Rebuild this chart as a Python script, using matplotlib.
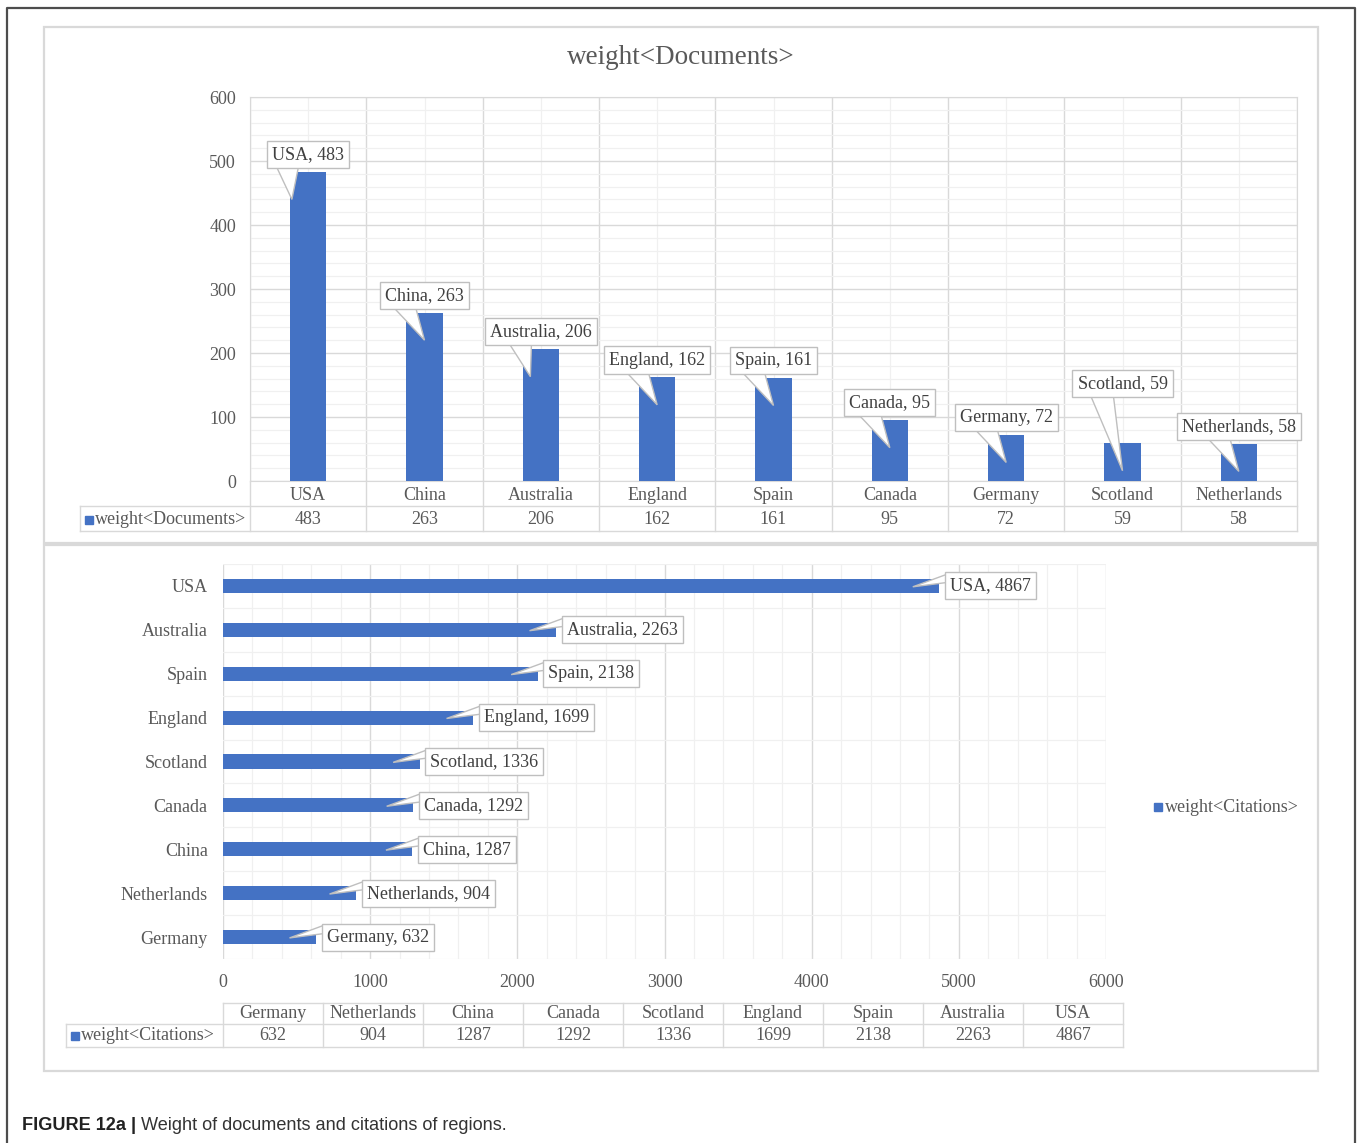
import matplotlib.pyplot as plt
from matplotlib.patches import Polygon, Rectangle
import numpy as np

# ---------------- data ----------------
doc_regions = ["USA", "China", "Australia", "England", "Spain", "Canada",
               "Germany", "Scotland", "Netherlands"]
doc_weights = [483, 263, 206, 162, 161, 95, 72, 59, 58]

cit_regions = ["Germany", "Netherlands", "China", "Canada", "Scotland",
               "England", "Spain", "Australia", "USA"]
cit_weights = [632, 904, 1287, 1292, 1336, 1699, 2138, 2263, 4867]

doc_series = "weight<Documents>"
cit_series = "weight<Citations>"
caption_bold = "FIGURE 12a |"
caption_text = " Weight of documents and citations of regions."

# ---------------- style ----------------
W, H = 1357, 1143
BLUE = "#4472C4"
GRID = "#d9d9d9"
MINOR = "#f0f0f0"
TXT = "#595959"
LBL = "#404040"
EDGE = "#bfbfbf"
SERIF = "Liberation Serif"
FS = 13

plt.rcParams["font.family"] = SERIF


def frac(x0, y0, x1, y1):
    # pixel box (y from top) -> figure fraction rect
    return [x0 / W, 1 - y1 / H, (x1 - x0) / W, (y1 - y0) / H]


fig = plt.figure(figsize=(W / 100, H / 100), dpi=100)
fig.patch.set_facecolor("white")

# background overlay in pixel coordinates
bg = fig.add_axes([0, 0, 1, 1], zorder=0)
bg.set_xlim(0, W)
bg.set_ylim(H, 0)
bg.axis("off")

# outer frame
bg.plot([7, 7, 1355, 1355], [H, 8, 8, H], color="#4d4d4d", lw=1.6)
# panels
bg.add_patch(Rectangle((44, 27), 1274, 516, fc="white", ec=GRID, lw=1.6))
bg.add_patch(Rectangle((44, 545), 1274, 526, fc="white", ec=GRID, lw=1.6))

# ---------------- top chart: documents ----------------
ax1 = fig.add_axes(frac(250, 97, 1297, 481), zorder=2)
ax1.set_facecolor("none")
n1 = len(doc_regions)
x1 = np.arange(n1)
ax1.bar(x1, doc_weights, width=0.31, color=BLUE, zorder=3)
ax1.set_xlim(-0.5, n1 - 0.5)
ax1.set_ylim(0, 600)
ax1.set_yticks(np.arange(0, 601, 100))
ax1.set_yticks(np.arange(0, 601, 20), minor=True)
ax1.set_xticks(np.arange(-0.5, n1, 1.0))
ax1.set_xticks(x1, minor=True)
ax1.set_xticklabels([])
ax1.grid(which="major", color=GRID, lw=1.0, zorder=0)
ax1.grid(which="minor", color=MINOR, lw=0.9, zorder=0)
ax1.tick_params(which="both", length=0)
ax1.tick_params(axis="y", labelsize=FS, labelcolor=TXT, pad=10)
for s in ax1.spines.values():
    s.set_color(GRID)
ax1.set_axisbelow(True)

# chart title centred on the panel
bg.text(681, 58, doc_series, ha="center", va="center", fontsize=19.5, color=TXT)

# callouts above bars
lift = [27, 27, 27, 27, 27, 27, 27, 93, 27]
tip_dx = [-0.14, 0, -0.09, 0, 0, 0, 0, 0, 0]
for i, (r, v) in enumerate(zip(doc_regions, doc_weights)):
    cy = v + lift[i]
    by = cy - 16
    tri = Polygon([(i - 0.28, by), (i - 0.08, by), (i + tip_dx[i], v - 43)],
                  closed=True, fc="white", ec=EDGE, lw=1.0, zorder=4)
    ax1.add_patch(tri)
    ax1.text(i, cy, f"{r}, {v}", ha="center", va="center", fontsize=FS,
             color=LBL, zorder=5,
             bbox=dict(boxstyle="square,pad=0.28", fc="white", ec=EDGE, lw=1.0))

# data table under the top chart
cw1 = (1297 - 250) / n1
for k in range(n1 + 1):
    bg.plot([250 + k * cw1] * 2, [481, 531], color=GRID, lw=1.0)
bg.plot([80, 1297], [506, 506], color=GRID, lw=1.0)
bg.plot([80, 1297], [531, 531], color=GRID, lw=1.0)
bg.plot([80, 80], [506, 531], color=GRID, lw=1.0)
for k, (r, v) in enumerate(zip(doc_regions, doc_weights)):
    cx = 250 + (k + 0.5) * cw1
    bg.text(cx, 495, r, ha="center", va="center", fontsize=FS, color=TXT)
    bg.text(cx, 520, str(v), ha="center", va="center", fontsize=FS, color=TXT)
bg.plot(89, 520, "s", ms=6, color=BLUE)
bg.text(95, 520, doc_series, ha="left", va="center", fontsize=FS, color=TXT)

# ---------------- bottom chart: citations ----------------
ax2 = fig.add_axes(frac(223, 564, 1106, 959), zorder=2)
ax2.set_facecolor("none")
n2 = len(cit_regions)
y2 = np.arange(n2)
ax2.barh(y2, cit_weights, height=0.32, color=BLUE, zorder=3)
ax2.set_xlim(0, 6000)
ax2.set_ylim(-0.5, n2 - 0.5)
ax2.set_xticks(np.arange(0, 6001, 1000))
ax2.set_xticks(np.arange(0, 6001, 200), minor=True)
ax2.set_yticks(y2)
ax2.set_yticklabels(cit_regions)
ax2.set_yticks(np.arange(-0.5, n2, 1.0), minor=True)
ax2.grid(axis="x", which="major", color=GRID, lw=1.0, zorder=0)
ax2.grid(axis="x", which="minor", color=MINOR, lw=0.9, zorder=0)
ax2.grid(axis="y", which="minor", color=MINOR, lw=0.9, zorder=0)
ax2.tick_params(which="both", length=0)
ax2.tick_params(axis="y", labelsize=FS, labelcolor=TXT, pad=11)
ax2.tick_params(axis="x", labelsize=FS, labelcolor=TXT, pad=11)
for s in ax2.spines.values():
    s.set_visible(False)
ax2.set_axisbelow(True)

# callouts right of bars
for i, (r, v) in enumerate(zip(cit_regions, cit_weights)):
    bx = v + 40
    tri = Polygon([(bx + 15, i + 0.27), (bx + 15, i + 0.08), (v - 180, i - 0.02)],
                  closed=True, fc="white", ec=EDGE, lw=1.0, zorder=4)
    ax2.add_patch(tri)
    ax2.text(bx + 32, i, f"{r}, {v}", ha="left", va="center", fontsize=FS,
             color=LBL, zorder=5,
             bbox=dict(boxstyle="square,pad=0.28", fc="white", ec=EDGE, lw=1.0))

# data table under the bottom chart
cw2 = 100
for k in range(n2 + 1):
    bg.plot([223 + k * cw2] * 2, [1003, 1047], color=GRID, lw=1.0)
bg.plot([223, 223 + n2 * cw2], [1003, 1003], color=GRID, lw=1.0)
bg.plot([66, 223 + n2 * cw2], [1024, 1024], color=GRID, lw=1.0)
bg.plot([66, 223 + n2 * cw2], [1047, 1047], color=GRID, lw=1.0)
bg.plot([66, 66], [1024, 1047], color=GRID, lw=1.0)
for k, (r, v) in enumerate(zip(cit_regions, cit_weights)):
    cx = 223 + (k + 0.5) * cw2
    bg.text(cx, 1014, r, ha="center", va="center", fontsize=FS, color=TXT)
    bg.text(cx, 1036, str(v), ha="center", va="center", fontsize=FS, color=TXT)
bg.plot(75, 1036, "s", ms=6, color=BLUE)
bg.text(81, 1036, cit_series, ha="left", va="center", fontsize=FS, color=TXT)

# series legend on the right
bg.plot(1158, 807, "s", ms=6, color=BLUE)
bg.text(1165, 807, cit_series, ha="left", va="center", fontsize=FS, color=TXT)

# caption
t1 = bg.text(22, 1125, caption_bold, ha="left", va="center", fontsize=13.1,
             fontweight="bold", color="#222222", family="Liberation Sans")
bg.annotate(caption_text, xy=(1, 0), xycoords=t1, ha="left", va="bottom",
            fontsize=13.1, color="#333333", family="Liberation Sans")

fig.savefig("out.png", dpi=100, facecolor="white")
